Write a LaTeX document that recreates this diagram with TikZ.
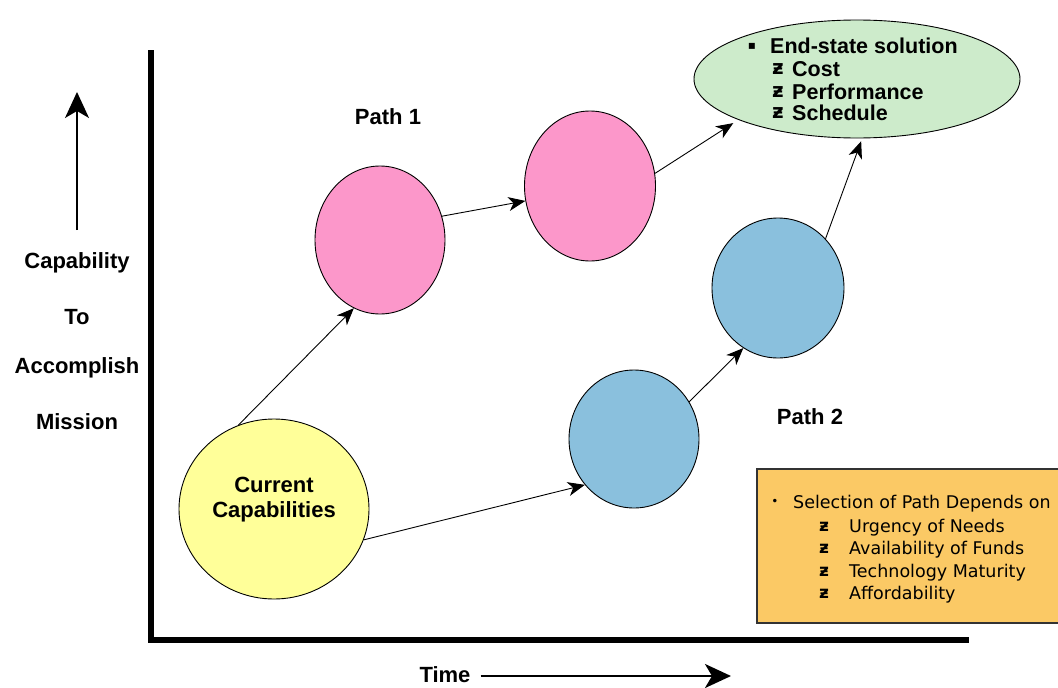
\documentclass[tikz,border=0pt]{standalone}
\usepackage{fontspec}
\setmainfont{Liberation Sans}
\newfontfamily\dvs{DejaVu Sans}
\usetikzlibrary{arrows.meta,shapes.geometric}
\definecolor{yellowc}{HTML}{FFFF99}
\definecolor{pinkc}{HTML}{FC97CA}
\definecolor{bluec}{HTML}{8AC0DD}
\definecolor{greenc}{HTML}{CDEBCB}
\definecolor{orangec}{HTML}{FBC965}
\begin{document}
\begin{tikzpicture}[x=1pt,y=-1pt,
  lab/.style={font=\bfseries\fontsize{22}{22}\selectfont, inner sep=0pt},
  elab/.style={font=\bfseries\fontsize{21.5}{21.5}\selectfont, inner sep=0pt, anchor=base west},
  olab/.style={font=\dvs\fontsize{17.5}{17.5}\selectfont, inner sep=0pt, anchor=base west},
  ezed/.style={font=\dvs\bfseries\fontsize{20}{20}\selectfont, inner sep=0pt},
  ozed/.style={font=\dvs\bfseries\fontsize{17}{17}\selectfont, inner sep=0pt},
  bub/.style={ellipse, draw=black, line width=0.9pt, inner sep=0pt},
  conn/.style={line width=0.9pt, -{Stealth[length=17pt,width=14pt,inset=5pt]}},
  axisline/.style={line width=6pt},
  bigarrow/.style={-{Stealth[length=26pt,width=24pt,inset=7pt]}}]
\useasboundingbox (0,0) rectangle (1058,688);
\clip (0,0) rectangle (1058,688);
\fill[white] (0,0) rectangle (1058,688);

% axes
\draw[axisline] (151,50) -- (151,640) -- (969,640);

% y-axis label and arrow
\coordinate (upfoot) at (77,230);
\coordinate (uptip) at (77,92);
\draw[bigarrow, line width=1.5pt] (upfoot) -- (uptip);
\node[lab] (cap1) at (77,263) {Capability};
\node[lab] (cap2) at (77,317) {To};
\node[lab] (cap3) at (77,368) {Accomplish};
\node[lab] (cap4) at (77,422) {Mission};

% x-axis label and arrow
\node[lab] (time) at (445,675) {Time};
\coordinate (timetip) at (731,676);
\draw[bigarrow, line width=2.5pt] (time.east) ++(10,1) -- (timetip);

% bubbles
\node[bub, fill=yellowc, minimum width=190pt, minimum height=180pt] (cur) at (274,509) {};
\node[lab, align=center] (curtxt) at (274,500) {Current\\[3pt]Capabilities};
\node[bub, fill=pinkc, minimum width=130pt, minimum height=148pt] (p1) at (380,240) {};
\node[bub, fill=pinkc, minimum width=131pt, minimum height=150pt] (p2) at (590,186) {};
\node[bub, fill=bluec, minimum width=130pt, minimum height=138pt] (b1) at (634,439) {};
\node[bub, fill=bluec, minimum width=132pt, minimum height=140pt] (b2) at (778,288) {};
\node[bub, fill=greenc, minimum width=326pt, minimum height=118pt] (goal) at (857,79) {};

% end-state text
\node[font=\dvs\fontsize{12}{12}\selectfont, inner sep=0pt] (gb) at (752,46) {▪};
\node[elab] (g0) at (770,53) {End-state solution};
\node[ezed] (gz1) at (778,69) {ƶ};
\node[elab] (g1) at (792,76) {Cost};
\node[ezed] (gz2) at (778,92) {ƶ};
\node[elab] (g2) at (792,99) {Performance};
\node[ezed] (gz3) at (778,113) {ƶ};
\node[elab] (g3) at (792,120) {Schedule};

% path labels
\node[lab] (path1) at (388,117) {Path 1};
\node[lab] (path2) at (810,417) {Path 2};

% connectors
\draw[conn] (cur.113) -- (p1.249);
\draw[conn] (p1.21) -- (p2.193);
\draw[conn, shorten >=6pt] (p2.11) -- (goal.199);
\draw[conn] (cur.-19) -- (b1.223);
\draw[conn] (b1.34) -- (b2.240);
\draw[conn, shorten >=3pt] (b2.46) -- (goal.275);

% selection box
\node[draw=black!80, line width=1.5pt, fill=orangec, minimum width=310pt, minimum height=154pt, anchor=north west, inner sep=0pt] (sel) at (756,468) {};
\node[font=\dvs\fontsize{12}{12}\selectfont, inner sep=0pt] (sb) at (775,502) {•};
\node[olab] (s0) at (793,508) {Selection of Path Depends on};
\node[ozed] (sz1) at (824,527) {ƶ};
\node[olab] (s1) at (849,532) {Urgency of Needs};
\node[ozed] (sz2) at (824,549) {ƶ};
\node[olab] (s2) at (849,554) {Availability of Funds};
\node[ozed] (sz3) at (824,572) {ƶ};
\node[olab] (s3) at (849,577) {Technology Maturity};
\node[ozed] (sz4) at (824,594) {ƶ};
\node[olab] (s4) at (849,599) {Affordability};
\end{tikzpicture}
\end{document}
